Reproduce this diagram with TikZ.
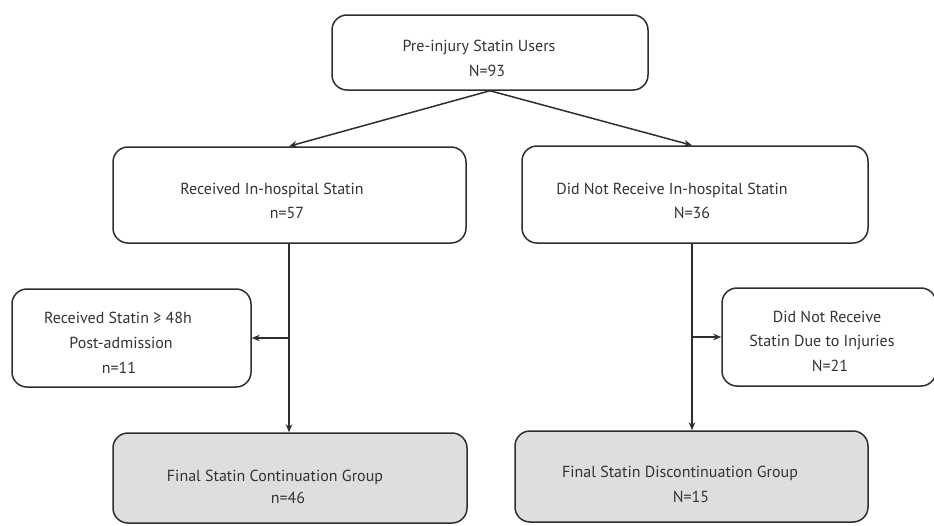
\documentclass[tikz,border=0pt]{standalone}
\usepackage{fontspec}
\setmainfont{PT Sans}
\usetikzlibrary{arrows.meta,calc}
\definecolor{linec}{HTML}{2E2E2E}
\definecolor{textc}{HTML}{333333}
\definecolor{boxfill}{HTML}{DDDEE0}
\begin{document}
\begin{tikzpicture}[x=1pt,y=-1pt,
  box/.style={draw=linec,line width=1.5pt,rounded corners=15pt,inner sep=0pt,fill=white},
  graybox/.style={box,fill=boxfill},
  txt/.style={anchor=base,inner sep=0pt,text=textc,font=\fontsize{16}{19}\selectfont},
  arr/.style={draw=linec,line width=1.5pt,-{Stealth[length=8pt,width=6.5pt]}},
  ln/.style={draw=linec,line width=1.5pt}]
\useasboundingbox (0,0) rectangle (934,525);
% boxes
\node[box,minimum width=316pt,minimum height=75pt] (top) at (490,52.5) {};
\node[box,minimum width=353pt,minimum height=96pt] (left) at (289.5,195) {};
\node[box,minimum width=346pt,minimum height=97pt] (right) at (695,194.5) {};
\node[box,minimum width=239pt,minimum height=98pt] (sideL) at (131.5,338) {};
\node[box,minimum width=214pt,minimum height=98pt] (sideR) at (829,337) {};
\node[graybox,minimum width=354pt,minimum height=90pt] (botL) at (290,478) {};
\node[graybox,minimum width=353pt,minimum height=91pt] (botR) at (691.5,476.5) {};
% texts
\node[txt] (t1a) at (479,51) {Pre-injury Statin Users};
\node[txt] (t1b) at (487,76) {N=93};
\node[txt] (t2a) at (272,194) {Received In-hospital Statin};
\node[txt] (t2b) at (287,218) {n=57};
\node[txt] (t3a) at (672,194) {Did Not Receive In-hospital Statin};
\node[txt] (t3b) at (692,218) {N=36};
\node[txt] (t4a) at (118,323) {Received Statin ≥ 48h};
\node[txt] (t4b) at (121,348) {Post-admission};
\node[txt] (t4c) at (119,373) {n=11};
\node[txt] (t5a) at (827,322) {Did Not Receive};
\node[txt] (t5b) at (822,346) {Statin Due to Injuries};
\node[txt] (t5c) at (830,371) {N=21};
\node[txt] (t6a) at (275,481) {Final Statin Continuation Group};
\node[txt] (t6b) at (288,503) {n=46};
\node[txt] (t7a) at (680,477) {Final Statin Discontinuation Group};
\node[txt] (t7b) at (691,502) {N=15};
% connectors
\coordinate (lx) at (289,300);
\coordinate (rx) at (692,300);
\draw[arr] (top.south) -- (lx |- left.north);
\draw[arr] (top.south) -- (rx |- right.north);
\draw[arr] (lx |- left.south) -- (lx |- botL.north);
\draw[arr] (rx |- right.south) -- (rx |- botR.north);
\draw[arr] (lx |- sideL.east) -- (sideL.east);
\draw[arr] (rx |- sideR.west) -- (sideR.west);
\end{tikzpicture}
\end{document}
